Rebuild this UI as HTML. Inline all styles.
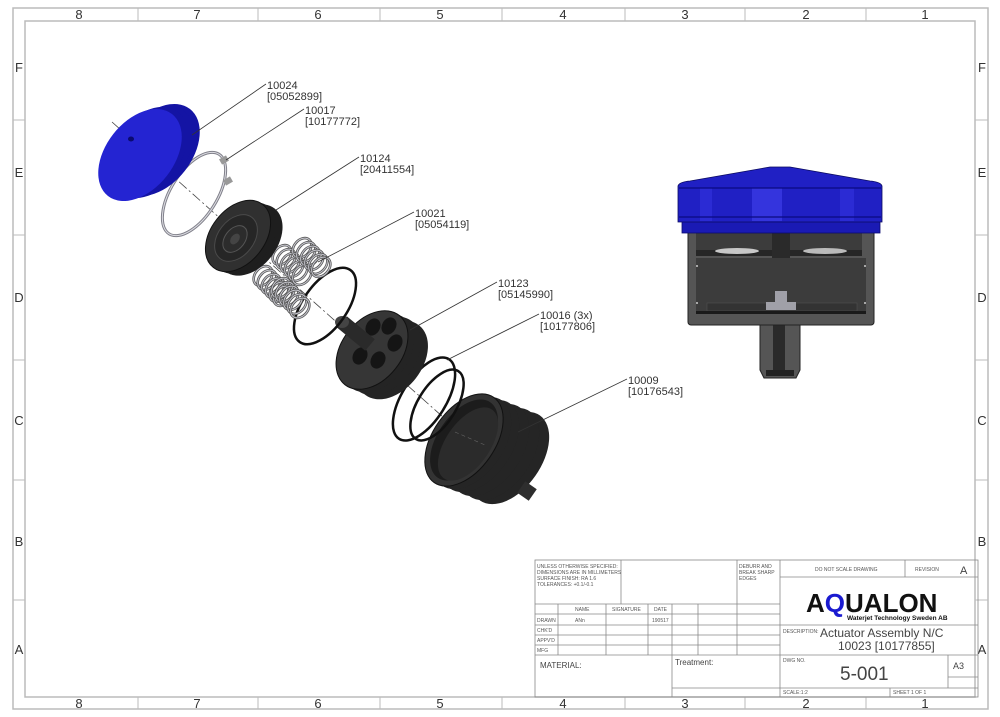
<!DOCTYPE html>
<html><head><meta charset="utf-8"><style>
html,body{margin:0;padding:0;background:#fff;}
svg{display:block;font-family:"Liberation Sans",sans-serif;}
</style></head><body>
<svg width="1000" height="717" viewBox="0 0 1000 717" xmlns="http://www.w3.org/2000/svg">
<defs>
<g id="coil"><ellipse rx="11" ry="8" fill="none" stroke="#555" stroke-width="2.6"/><ellipse rx="11" ry="8" fill="none" stroke="#c8c8d0" stroke-width="1"/></g>
</defs>
<!-- frames -->
<rect x="13" y="8" width="975" height="701" fill="none" stroke="#bbb" stroke-width="1.5"/>
<rect x="25" y="21" width="950" height="676" fill="none" stroke="#bbb" stroke-width="1.5"/>
<g stroke="#bbb" stroke-width="1">
<line x1="138" y1="8" x2="138" y2="21"/><line x1="258" y1="8" x2="258" y2="21"/><line x1="380" y1="8" x2="380" y2="21"/><line x1="502" y1="8" x2="502" y2="21"/><line x1="625" y1="8" x2="625" y2="21"/><line x1="745" y1="8" x2="745" y2="21"/><line x1="866" y1="8" x2="866" y2="21"/>
<line x1="138" y1="697" x2="138" y2="709"/><line x1="258" y1="697" x2="258" y2="709"/><line x1="380" y1="697" x2="380" y2="709"/><line x1="502" y1="697" x2="502" y2="709"/><line x1="625" y1="697" x2="625" y2="709"/><line x1="745" y1="697" x2="745" y2="709"/><line x1="866" y1="697" x2="866" y2="709"/>
<line x1="13" y1="120" x2="25" y2="120"/><line x1="13" y1="235" x2="25" y2="235"/><line x1="13" y1="360" x2="25" y2="360"/><line x1="13" y1="480" x2="25" y2="480"/><line x1="13" y1="600" x2="25" y2="600"/>
<line x1="975" y1="120" x2="988" y2="120"/><line x1="975" y1="235" x2="988" y2="235"/><line x1="975" y1="360" x2="988" y2="360"/><line x1="975" y1="480" x2="988" y2="480"/><line x1="975" y1="600" x2="988" y2="600"/>
</g>
<g font-size="13" fill="#333" text-anchor="middle">
<text x="79" y="19">8</text><text x="197" y="19">7</text><text x="318" y="19">6</text><text x="440" y="19">5</text><text x="563" y="19">4</text><text x="685" y="19">3</text><text x="806" y="19">2</text><text x="925" y="19">1</text>
<text x="79" y="708">8</text><text x="197" y="708">7</text><text x="318" y="708">6</text><text x="440" y="708">5</text><text x="563" y="708">4</text><text x="685" y="708">3</text><text x="806" y="708">2</text><text x="925" y="708">1</text>
<text x="19" y="72">F</text><text x="19" y="177">E</text><text x="19" y="302">D</text><text x="19" y="425">C</text><text x="19" y="546">B</text><text x="19" y="654">A</text>
<text x="982" y="72">F</text><text x="982" y="177">E</text><text x="982" y="302">D</text><text x="982" y="425">C</text><text x="982" y="546">B</text><text x="982" y="654">A</text>
</g>
<!-- axis -->
<line x1="112" y1="122" x2="480" y2="450" stroke="#444" stroke-width="0.8" stroke-dasharray="10,3,2,3"/>
<!-- housing 10009 -->
<g fill="#252525">
<ellipse cx="510" cy="458" rx="52" ry="31" transform="rotate(-55 510 458)"/>
<ellipse cx="500" cy="454" rx="52" ry="31" transform="rotate(-55 500 454)"/>
<ellipse cx="490" cy="450" rx="52" ry="31" transform="rotate(-55 490 450)"/>
<ellipse cx="480" cy="446" rx="52" ry="31" transform="rotate(-55 480 446)"/>
<ellipse cx="472" cy="443" rx="52" ry="31" transform="rotate(-55 472 443)"/>
</g>
<rect x="520" y="484" width="14" height="14" fill="#2e2e2e" transform="rotate(35 527 491)"/>
<ellipse cx="464" cy="440" rx="52" ry="31" fill="#333" stroke="#111" transform="rotate(-55 464 440)"/>
<ellipse cx="464" cy="440" rx="46" ry="26" fill="#1c1c1c" transform="rotate(-55 464 440)"/>
<ellipse cx="468" cy="444" rx="42" ry="22" fill="#2b2b2b" transform="rotate(-55 468 444)"/>
<line x1="455" y1="432" x2="485" y2="445" stroke="#666" stroke-width="0.6" stroke-dasharray="4,3"/>
<!-- O-rings 10016 -->
<ellipse cx="424" cy="399" rx="47" ry="22" fill="none" stroke="#111" stroke-width="2.5" transform="rotate(-58 424 399)"/>
<ellipse cx="437" cy="405" rx="40" ry="19" fill="none" stroke="#111" stroke-width="2.5" transform="rotate(-58 437 405)"/>
<!-- piston 10123 -->
<g fill="#242424">
<ellipse cx="392" cy="360" rx="44" ry="30" transform="rotate(-52 392 360)"/>
<ellipse cx="385" cy="356" rx="44" ry="30" transform="rotate(-52 385 356)"/>
<ellipse cx="378" cy="353" rx="44" ry="30" transform="rotate(-52 378 353)"/>
</g>
<ellipse cx="372" cy="350" rx="44" ry="30" fill="#363636" stroke="#111" transform="rotate(-52 372 350)"/>
<g fill="#151515">
<ellipse cx="373" cy="327" rx="7" ry="9" transform="rotate(30 373 327)"/>
<ellipse cx="389" cy="326" rx="7" ry="9" transform="rotate(30 389 326)"/>
<ellipse cx="395" cy="343" rx="7" ry="9" transform="rotate(30 395 343)"/>
<ellipse cx="378" cy="360" rx="7" ry="9" transform="rotate(30 378 360)"/>
<ellipse cx="360" cy="356" rx="7" ry="9" transform="rotate(30 360 356)"/>
</g>
<line x1="342" y1="322" x2="370" y2="345" stroke="#2a2a2a" stroke-width="15"/>
<ellipse cx="342" cy="322" rx="7" ry="6" fill="#444"/>
<!-- O-ring 10021 -->
<ellipse cx="325" cy="306" rx="44" ry="22" fill="none" stroke="#111" stroke-width="2.5" transform="rotate(-55 325 306)"/>
<!-- springs -->
<g>
<use href="#coil" transform="translate(282,255) rotate(-50)"/><use href="#coil" transform="translate(286,259) rotate(-50)"/><use href="#coil" transform="translate(290,263) rotate(-50)"/><use href="#coil" transform="translate(294,267) rotate(-50)"/><use href="#coil" transform="translate(298,271) rotate(-50)"/><use href="#coil" transform="translate(302,275) rotate(-50)"/>
<use href="#coil" transform="translate(302,248) rotate(-50)"/><use href="#coil" transform="translate(306,252) rotate(-50)"/><use href="#coil" transform="translate(310,256) rotate(-50)"/><use href="#coil" transform="translate(314,260) rotate(-50)"/><use href="#coil" transform="translate(318,264) rotate(-50)"/><use href="#coil" transform="translate(321,267) rotate(-50)"/>
<use href="#coil" transform="translate(263,276) rotate(-50)"/><use href="#coil" transform="translate(267,280) rotate(-50)"/><use href="#coil" transform="translate(271,284) rotate(-50)"/><use href="#coil" transform="translate(275,288) rotate(-50)"/><use href="#coil" transform="translate(279,292) rotate(-50)"/><use href="#coil" transform="translate(283,296) rotate(-50)"/>
<use href="#coil" transform="translate(281,288) rotate(-50)"/><use href="#coil" transform="translate(285,292) rotate(-50)"/><use href="#coil" transform="translate(289,296) rotate(-50)"/><use href="#coil" transform="translate(293,300) rotate(-50)"/><use href="#coil" transform="translate(297,304) rotate(-50)"/><use href="#coil" transform="translate(300,308) rotate(-50)"/>
</g>
<!-- disk 10124 -->
<g fill="#1e1e1e">
<ellipse cx="250" cy="240" rx="40" ry="27" transform="rotate(-52 250 240)"/>
<ellipse cx="244" cy="238" rx="40" ry="27" transform="rotate(-52 244 238)"/>
</g>
<ellipse cx="238" cy="236" rx="40" ry="27" fill="#303030" stroke="#111" transform="rotate(-52 238 236)"/>
<ellipse cx="236" cy="238" rx="26" ry="18" fill="#262626" stroke="#4a4a4a" transform="rotate(-52 236 238)"/>
<ellipse cx="235" cy="239" rx="15" ry="10" fill="#2c2c2c" stroke="#555" transform="rotate(-52 235 239)"/>
<ellipse cx="235" cy="239" rx="6" ry="4" fill="#444" transform="rotate(-52 235 239)"/>
<!-- ring 10017 -->
<ellipse cx="194" cy="194" rx="47" ry="23" fill="none" stroke="#80808a" stroke-width="3" stroke-dasharray="250,18" transform="rotate(-58 194 194)"/>
<ellipse cx="194" cy="194" rx="47" ry="23" fill="none" stroke="#dcdce2" stroke-width="1" stroke-dasharray="250,18" transform="rotate(-58 194 194)"/>
<rect x="220" y="157" width="8" height="6" fill="#999" transform="rotate(-30 224 160)"/>
<rect x="224" y="178" width="8" height="6" fill="#999" transform="rotate(-30 228 181)"/>
<!-- cap 10024 -->
<g fill="#1414a4">
<ellipse cx="158" cy="150" rx="52" ry="34" transform="rotate(-52 158 150)"/>
<ellipse cx="152" cy="152" rx="52" ry="34" transform="rotate(-52 152 152)"/>
<ellipse cx="146" cy="153" rx="52" ry="34" transform="rotate(-52 146 153)"/>
</g>
<ellipse cx="140" cy="155" rx="52" ry="34" fill="#2424d2" transform="rotate(-52 140 155)"/>
<ellipse cx="131" cy="139" rx="3" ry="2.5" fill="#0a0a70"/>
<!-- leaders -->
<g stroke="#333" stroke-width="0.8">
<line x1="266" y1="84" x2="192" y2="135"/>
<line x1="304" y1="109" x2="226" y2="160"/>
<line x1="359" y1="157" x2="276" y2="210"/>
<line x1="414" y1="212" x2="318" y2="262"/>
<line x1="497" y1="282" x2="410" y2="330"/>
<line x1="539" y1="314" x2="447" y2="360"/>
<line x1="627" y1="379" x2="518" y2="432"/>
</g>
<g font-size="11" fill="#333">
<text x="267" y="89">10024</text><text x="267" y="100">[05052899]</text>
<text x="305" y="114">10017</text><text x="305" y="125">[10177772]</text>
<text x="360" y="162">10124</text><text x="360" y="173">[20411554]</text>
<text x="415" y="217">10021</text><text x="415" y="228">[05054119]</text>
<text x="498" y="287">10123</text><text x="498" y="298">[05145990]</text>
<text x="540" y="319">10016 (3x)</text><text x="540" y="330">[10177806]</text>
<text x="628" y="384">10009</text><text x="628" y="395">[10176543]</text>
</g>
<!-- section view -->
<path d="M760,322 L800,322 L800,370 L796,378 L764,378 L760,370 Z" fill="#555" stroke="#222"/>
<rect x="773" y="322" width="12" height="50" fill="#2a2a2a"/>
<rect x="766" y="370" width="28" height="6" fill="#222"/>
<rect x="688" y="228" width="186" height="97" rx="3" fill="#555" stroke="#222"/>
<rect x="696" y="233" width="76" height="23" fill="#3c3c3c"/>
<rect x="790" y="233" width="72" height="23" fill="#3c3c3c"/>
<rect x="772" y="233" width="18" height="34" fill="#2a2a2a"/>
<rect x="696" y="250" width="76" height="6" fill="#262626"/><rect x="790" y="250" width="72" height="6" fill="#262626"/>
<ellipse cx="737" cy="251" rx="22" ry="3" fill="#c8c8c8"/><ellipse cx="825" cy="251" rx="22" ry="3" fill="#bbb"/>
<rect x="696" y="258" width="170" height="56" fill="#3c3c3c"/>
<rect x="707" y="303" width="150" height="8" fill="#333" stroke="#555" stroke-width="0.5"/>
<path d="M766,302 L775,302 L775,291 L787,291 L787,302 L796,302 L796,310 L766,310 Z" fill="#a0a0a8"/>
<rect x="696" y="311" width="170" height="3" fill="#1a1a1a"/>
<circle cx="697" cy="266" r="1" fill="#ccc"/><circle cx="865" cy="266" r="1" fill="#ccc"/><circle cx="697" cy="303" r="1" fill="#ccc"/><circle cx="865" cy="303" r="1" fill="#ccc"/>
<rect x="682" y="220" width="198" height="13" fill="#1a1ab4" stroke="#0a0a70" stroke-width="0.8"/>
<path d="M678,186 Q679,182 690,181 L770,167 L790,167 L870,181 Q881,182 882,186 L882,222 L678,222 Z" fill="#2020c4" stroke="#0a0a60" stroke-width="0.8"/>
<rect x="752" y="188" width="30" height="33" fill="#3a3ae4" opacity="0.8"/>
<rect x="700" y="188" width="12" height="33" fill="#2e2ed8" opacity="0.8"/>
<rect x="840" y="188" width="14" height="33" fill="#2e2ed8" opacity="0.8"/>
<line x1="679" y1="188" x2="881" y2="188" stroke="#0a0a80" stroke-width="1.2"/>
<line x1="679" y1="217" x2="881" y2="217" stroke="#0a0a80" stroke-width="1.2"/>
<!-- title block -->
<g stroke="#888" stroke-width="0.8" fill="none">
<rect x="535" y="560" width="443" height="137"/>
<line x1="780" y1="560" x2="780" y2="697"/>
<line x1="621" y1="560" x2="621" y2="604"/>
<line x1="737" y1="560" x2="737" y2="655"/>
<line x1="535" y1="604" x2="780" y2="604"/>
<line x1="535" y1="614" x2="780" y2="614"/>
<line x1="535" y1="625" x2="780" y2="625"/>
<line x1="535" y1="635" x2="780" y2="635"/>
<line x1="535" y1="645" x2="780" y2="645"/>
<line x1="535" y1="655" x2="780" y2="655"/>
<line x1="558" y1="604" x2="558" y2="655"/>
<line x1="606" y1="604" x2="606" y2="655"/>
<line x1="648" y1="604" x2="648" y2="655"/>
<line x1="672" y1="604" x2="672" y2="697"/>
<line x1="698" y1="604" x2="698" y2="655"/>
<line x1="672" y1="688" x2="780" y2="688"/>
<line x1="780" y1="577" x2="978" y2="577"/>
<line x1="905" y1="560" x2="905" y2="577"/>
<line x1="780" y1="625" x2="978" y2="625"/>
<line x1="780" y1="655" x2="978" y2="655"/>
<line x1="780" y1="688" x2="978" y2="688"/>
<line x1="948" y1="655" x2="948" y2="688"/>
<line x1="948" y1="677" x2="978" y2="677"/>
<line x1="890" y1="688" x2="890" y2="697"/>
</g>
<g font-size="5" fill="#555">
<text x="537" y="568">UNLESS OTHERWISE SPECIFIED:</text>
<text x="537" y="574">DIMENSIONS ARE IN MILLIMETERS</text>
<text x="537" y="580">SURFACE FINISH: RA 1.6</text>
<text x="537" y="586">TOLERANCES: +0.1/-0.1</text>
<text x="739" y="568">DEBURR AND</text><text x="739" y="574">BREAK SHARP</text><text x="739" y="580">EDGES</text>
<text x="575" y="611">NAME</text><text x="612" y="611">SIGNATURE</text><text x="654" y="611">DATE</text>
<text x="537" y="622">DRAWN</text><text x="575" y="622">ANn</text><text x="652" y="622">190517</text>
<text x="537" y="632">CHK'D</text><text x="537" y="642">APPV'D</text><text x="537" y="652">MFG</text>
<text x="815" y="571">DO NOT SCALE DRAWING</text><text x="915" y="571">REVISION</text>
<text x="783" y="633">DESCRIPTION:</text><text x="783" y="662">DWG NO.</text>
<text x="783" y="694">SCALE:1:2</text><text x="893" y="694">SHEET 1 OF 1</text>
</g>
<g fill="#444">
<text x="540" y="668" font-size="8">MATERIAL:</text>
<text x="675" y="665" font-size="8">Treatment:</text>
<text x="960" y="574" font-size="11">A</text>
<text x="953" y="669" font-size="9">A3</text>
<text x="820" y="637" font-size="12">Actuator Assembly N/C</text>
<text x="838" y="650" font-size="12">10023 [10177855]</text>
<text x="840" y="680" font-size="19">5-001</text>
</g>
<text x="806" y="612" font-size="26" font-weight="bold" fill="#111">A<tspan fill="#1a1ad0">Q</tspan>UALON</text>
<text x="847" y="620" font-size="6.5" font-weight="bold" fill="#111">Waterjet Technology Sweden AB</text>
</svg>
</body></html>
